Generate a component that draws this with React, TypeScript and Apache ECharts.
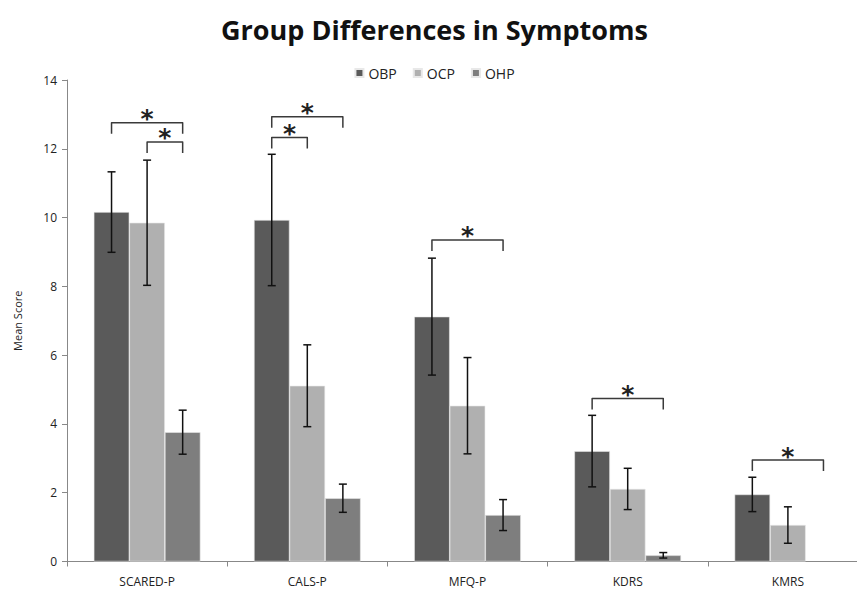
import React, { useEffect, useRef } from "react";
import * as echarts from "echarts";

const categories = ["SCARED-P", "CALS-P", "MFQ-P", "KDRS", "KMRS"];
const groups = ["OBP", "OCP", "OHP"];
const obpMeans = [10.16, 9.93, 7.12, 3.21, 1.95];
const ocpMeans = [9.85, 5.11, 4.53, 2.11, 1.06];
const ohpMeans: (number | null)[] = [3.76, 1.84, 1.35, 0.18, null];
const obpErr = [1.17, 1.91, 1.7, 1.04, 0.5];
const ocpErr = [1.82, 1.19, 1.4, 0.6, 0.53];
const ohpErr: (number | null)[] = [0.64, 0.41, 0.45, 0.08, null];
const yTicks = [0, 2, 4, 6, 8, 10, 12, 14];
// significance brackets: [category index, from group, to group, bracket height]
const brackets = [
  [0, 0, 2, 12.76],
  [0, 1, 2, 12.2],
  [1, 0, 2, 12.93],
  [1, 0, 1, 12.33],
  [2, 0, 2, 9.35],
  [3, 0, 2, 4.74],
  [4, 0, 2, 2.95],
];

const colors = ["#5a5a5a", "#b0b0b0", "#7e7e7e"];
const BAR_FRAC = 0.222;
const LEG = 0.32;

export default function App() {
  const ref = useRef<HTMLDivElement>(null);
  useEffect(() => {
    if (!ref.current) return;
    const chart = echarts.init(ref.current, undefined, { renderer: "svg" });
    const means = [obpMeans, ocpMeans, ohpMeans];
    const errs = [obpErr, ocpErr, ohpErr];

    const barSeries = groups.map((g, gi) => ({
      name: g,
      type: "bar",
      data: means[gi],
      barWidth: BAR_FRAC * 100 + "%",
      barGap: "0%",
      itemStyle: { color: colors[gi], borderColor: "#e8e8e8", borderWidth: 0.6 },
      z: 2,
    }));

    const errSeries = groups.map((g, gi) => ({
      type: "custom",
      name: g + "-err",
      z: 5,
      silent: true,
      itemStyle: { color: "#111" },
      encode: { x: 0, y: 1 },
      data: categories
        .map((_, ci) => [ci, means[gi][ci], errs[gi][ci]])
        .filter((d) => d[1] != null),
      renderItem: (params: any, api: any) => {
        const ci = api.value(0);
        const m = api.value(1);
        const e = api.value(2);
        const band = api.size([1, 0])[0];
        const c = api.coord([ci, m]);
        const cx = c[0] + (gi - 1) * BAR_FRAC * band;
        const yt = api.coord([ci, m + e])[1];
        const yb = api.coord([ci, m - e])[1];
        const cap = 4;
        const st = { stroke: "#111", lineWidth: 1.5 };
        return {
          type: "group",
          children: [
            { type: "line", shape: { x1: cx, y1: yt, x2: cx, y2: yb }, style: st },
            { type: "line", shape: { x1: cx - cap, y1: yt, x2: cx + cap, y2: yt }, style: st },
            { type: "line", shape: { x1: cx - cap, y1: yb, x2: cx + cap, y2: yb }, style: st },
          ],
        };
      },
    }));

    const bracketSeries = {
      type: "custom",
      name: "brackets",
      z: 6,
      silent: true,
      itemStyle: { color: "#222" },
      encode: { x: 0, y: 3 },
      data: brackets,
      renderItem: (params: any, api: any) => {
        const ci = api.value(0);
        const g1 = api.value(1);
        const g2 = api.value(2);
        const h = api.value(3);
        const band = api.size([1, 0])[0];
        const top = api.coord([ci, h]);
        const legY = api.coord([ci, h - LEG])[1];
        const x1 = top[0] + (g1 - 1) * BAR_FRAC * band;
        const x2 = top[0] + (g2 - 1) * BAR_FRAC * band;
        const y = top[1];
        return {
          type: "group",
          children: [
            {
              type: "polyline",
              shape: { points: [[x1, legY], [x1, y], [x2, y], [x2, legY]] },
              style: { stroke: "#3a3a3a", lineWidth: 1.5, fill: null, lineJoin: "round" },
            },
            {
              type: "text",
              style: {
                text: "*",
                x: (x1 + x2) / 2,
                y: y - 4,
                align: "center",
                verticalAlign: "middle",
                fontSize: 25,
                fontWeight: "bold",
                fontFamily: "DejaVu Sans",
                fill: "#222222",
                stroke: null,
              },
            },
          ],
        };
      },
    };

    chart.setOption({
      animation: false,
      backgroundColor: "#ffffff",
      title: {
        text: "Group Differences in Symptoms",
        left: "center",
        top: 11,
        textStyle: { fontFamily: "Open Sans", fontWeight: "bold", fontSize: 27, color: "#111" },
      },
      legend: {
        data: groups,
        top: 61,
        left: "center",
        itemWidth: 8,
        itemHeight: 8,
        itemGap: 16,
        icon: "rect",
        textStyle: { fontFamily: "Open Sans", fontSize: 14, color: "#222" },
      },
      grid: { left: 67, right: 1, top: 80, bottom: 596 - 561.5 },
      xAxis: {
        type: "category",
        data: categories,
        axisLine: { lineStyle: { color: "#888", width: 1 } },
        axisTick: { show: true, length: 5, lineStyle: { color: "#888" } },
        axisLabel: { fontFamily: "Open Sans", fontSize: 12, color: "#222", margin: 14 },
      },
      yAxis: {
        type: "value",
        min: yTicks[0],
        max: yTicks[yTicks.length - 1],
        interval: 2,
        name: "Mean Score",
        nameLocation: "middle",
        nameGap: 44,
        nameTextStyle: { fontFamily: "Open Sans", fontSize: 11, color: "#222222" },
        axisLine: { show: true, lineStyle: { color: "#888" } },
        axisTick: { show: true, length: 5, lineStyle: { color: "#888" } },
        splitLine: { show: false },
        axisLabel: { fontFamily: "Open Sans", fontSize: 12, color: "#222", margin: 10 },
      },
      series: [...barSeries, ...errSeries, bracketSeries],
    });
    return () => chart.dispose();
  }, []);
  return (
    <div
      style={{ position: "fixed", left: 0, top: 0, width: 857, height: 596, overflow: "hidden", background: "#fff" }}
    >
      <div ref={ref} style={{ width: 869, height: 596 }} />
    </div>
  );
}
